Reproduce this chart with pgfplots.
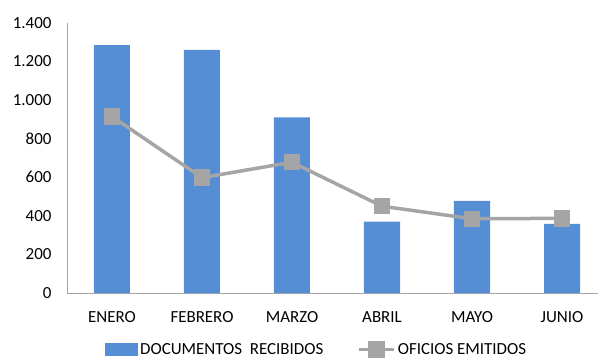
\documentclass[border=0pt]{standalone}
\usepackage{pgfplots}
\pgfplotsset{compat=1.18}
\usepackage{fontspec}
\setmainfont{Carlito}
\definecolor{barblue}{HTML}{558ED5}
\definecolor{linegray}{HTML}{A5A5A5}
\definecolor{axisgray}{HTML}{A6A6A6}
\begin{document}
\begin{tikzpicture}
\path[use as bounding box] (-67bp,-67bp) rectangle (531bp,293bp);
\begin{axis}[
  at={(0,0)}, anchor=south west,
  scale only axis, width=531bp, height=270bp,
  xmin=-0.5, xmax=5.4, ymin=0, ymax=1400,
  xtick={0,...,5},
  xticklabels={ENERO,FEBRERO,MARZO,ABRIL,MAYO,JUNIO},
  ytick={0,200,...,1400},
  axis x line*=bottom, axis y line*=left,
  major tick length=0pt,
  axis line style={draw=axisgray, line width=0.9bp},
  /pgf/number format/assume math mode=true,
  /pgf/number format/1000 sep={.},
  tick label style={font=\fontsize{17}{20}\selectfont, text=black},
  xticklabel style={yshift=-15bp},
  yticklabel style={xshift=-12bp},
  legend columns=2,
  legend style={draw=none, fill=none, at={(0.0716,-0.21)}, anchor=west, inner sep=0pt,
    font=\fontsize{17}{20}\selectfont,
    /tikz/every even column/.append style={column sep=32bp}},
  legend cell align=left,
]
\addplot[ybar, bar width=36bp, fill=barblue, draw=none,
  legend image code/.code={\fill[barblue] (0bp,-6.5bp) rectangle (33bp,6.5bp);}]
  coordinates {(0,1285) (1,1260) (2,910) (3,370) (4,478) (5,358)};
\addlegendentry{DOCUMENTOS\ \ RECIBIDOS}
\addplot[linegray, line width=3.5bp, mark=square*, mark size=6.5bp,
  mark options={fill=linegray, draw=none},
  legend image code/.code={\draw[linegray, line width=3.5bp] (0bp,0bp) -- (35bp,0bp);
    \fill[linegray] (11bp,-6.5bp) rectangle (24bp,6.5bp);}]
  coordinates {(0,915) (1,598) (2,678) (3,450) (4,385) (5,387)};
\addlegendentry{OFICIOS EMITIDOS}
\end{axis}
\end{tikzpicture}
\end{document}
